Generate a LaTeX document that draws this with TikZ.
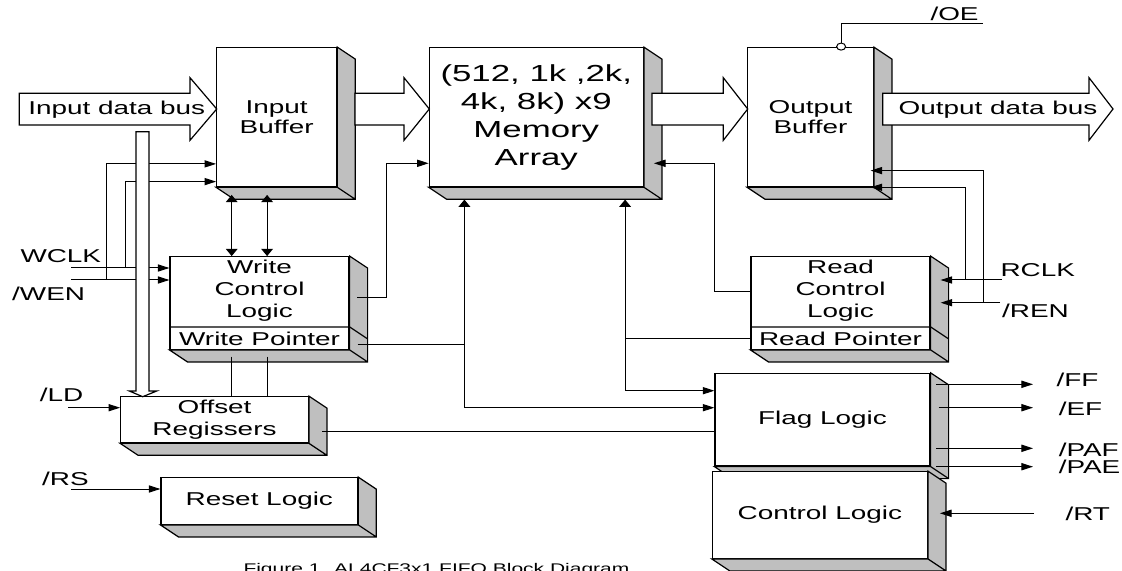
\documentclass[tikz,border=0pt]{standalone}
\usepackage{fontspec}
\newfontfamily\arialw[FakeStretch=1.5]{Liberation Sans}
\newcommand\lab{\arialw\fontsize{9.3pt}{11pt}\selectfont}
\newcommand\labten{\arialw\fontsize{9.3pt}{10pt}\selectfont}
\newcommand\memlab{\arialw\fontsize{11.6pt}{14pt}\selectfont}
\newcommand\caplab{\arialw\fontsize{7pt}{8pt}\selectfont}
\usetikzlibrary{arrows.meta, calc, shapes.geometric}

\tikzset{
  ht/.tip={Triangle[length=5.8pt,width=3.6pt]},
  vt/.tip={Triangle[length=3.6pt,width=5.8pt]},
}

% grey side and bottom of a block
\newcommand\blkside[1]{%
  \path[sideface] (#1.north east) -- ++(18,12) -- ($(#1.south east)+(18,12)$)
    -- ($(#1.south west)+(18,12)$) -- (#1.south west) -- (#1.south east) -- cycle
    (#1.south east) -- ++(18,12);}
% wide data bus arrow
\newcommand\busarrow[3]{%
  \path[busline] (#1,93.3) -- (#2,93.3) -- (#2,77.7) -- (#3,109) -- (#2,140.3)
    -- (#2,125) -- (#1,125) -- cycle;}

\begin{document}
\begin{tikzpicture}[x=0.5pt, y=-0.5pt, line width=0.5pt,
    blk/.style={draw, fill=white, line width=0.6pt, inner sep=0pt, align=center, font=\lab},
    sideface/.style={draw, fill=black!25, line width=0.6pt},
    busline/.style={draw, fill=white, line width=0.6pt},
    txt/.style={font=\lab, align=center, inner sep=0pt},
    sig/.style={font=\lab, inner sep=0pt, anchor=base west},
    hto/.style={-ht}, vboth/.style={vt-vt}, vh/.style={vt-ht}]
    \useasboundingbox (0,0) rectangle (1122,571);
    \clip (0,0) rectangle (1122,571);

    % blocks
    \node[blk, minimum width=60pt, minimum height=69.5pt, font=\labten] (inbuf) at (276.7,117.2) {Input\\Buffer};
    \blkside{inbuf}
    \node[blk, minimum width=107pt, minimum height=69.5pt, font=\memlab] (mem) at (536.3,117.2) {(512, 1k ,2k,\\4k, 8k) x9\\Memory\\Array};
    \blkside{mem}
    \node[blk, minimum width=62.8pt, minimum height=69.5pt, font=\labten] (outbuf) at (810.5,117.2) {Output\\Buffer};
    \blkside{outbuf}
    \node[blk, minimum width=89.5pt, minimum height=46.3pt] (wcl) at (259.5,303) {};
    \blkside{wcl}
    \draw[line width=0.6pt] ($(wcl.south west)+(0,-23)$) -- ($(wcl.south east)+(0,-23)$) -- ++(18,12);
    \node[txt] (wcltxt) at ($(wcl.north)+(0,34.5)$) {Write\\Control\\Logic};
    \node[txt] (wptr) at ($(wcl.south)+(0,-11.3)$) {Write Pointer};
    \node[blk, minimum width=89.5pt, minimum height=46.3pt] (rcl) at (840.5,303) {};
    \blkside{rcl}
    \draw[line width=0.6pt] ($(rcl.south west)+(0,-23)$) -- ($(rcl.south east)+(0,-23)$) -- ++(18,12);
    \node[txt] (rcltxt) at ($(rcl.north)+(0,34.5)$) {Read\\Control\\Logic};
    \node[txt] (rptr) at ($(rcl.south)+(0,-11.3)$) {Read Pointer};
    \node[blk, minimum width=93.8pt, minimum height=23pt] (offs) at (214.5,419.7) {Offset\\Regissers};
    \blkside{offs}
    \node[blk, minimum width=98.3pt, minimum height=23.3pt] (rst) at (259.3,501) {Reset Logic};
    \blkside{rst}
    \node[blk, minimum width=107.5pt, minimum height=46.3pt] (flag) at (822.5,419.7) {Flag Logic};
    \blkside{flag}
    \node[blk, minimum width=107.5pt, minimum height=43.3pt] (ctl) at (819.8,515) {Control Logic};
    \blkside{ctl}

    % data buses
    \busarrow{19.3}{190}{216.7}
    \node[font=\lab, inner sep=0pt, anchor=base] (inbus) at (116.7,115) {Input data bus};
    \busarrow{355}{404}{429.3}
    \busarrow{652}{723.3}{747.7}
    \busarrow{882.7}{1089}{1113}
    \node[font=\lab, inner sep=0pt, anchor=base] (outbus) at (998,115) {Output data bus};

    % pins
    \coordinate (wclk) at (71,268);
    \coordinate (wen) at (71,280);
    \coordinate (ld) at (68.3,407.7);
    \coordinate (rs) at (71,489);
    \coordinate (rclk) at (1001.7,280);
    \coordinate (ren) at (1000,302.7);
    \coordinate (rt) at (1034,513.3);
    \coordinate (ff) at (1033,384.3);
    \coordinate (ef) at (1033,407.7);
    \coordinate (paf) at (1033,448.3);
    \coordinate (pae) at (1033,466.7);
    \coordinate (oe) at (983.3,24);
    \node[sig] (lwclk) at (20,262.7) {WCLK};
    \node[sig] (lwen) at (11.7,300) {/WEN};
    \node[sig] (lld) at (39.3,401.7) {/LD};
    \node[sig] (lrs) at (41.7,485.7) {/RS};
    \node[sig] (lrclk) at (1000,276.7) {RCLK};
    \node[sig] (lren) at (1001.7,317.7) {/REN};
    \node[sig] (lff) at (1056,386.7) {/FF};
    \node[sig] (lef) at (1058.3,415.7) {/EF};
    \node[sig] (lpaf) at (1058.3,456.7) {/PAF};
    \node[sig] (lpae) at (1058.3,473.3) {/PAE};
    \node[sig] (lrt) at (1065,520) {/RT};
    \node[sig] (loe) at (930,20.7) {/OE};

    % write side
    \draw[hto] (wclk) -- (wclk -| wcl.west);
    \draw[hto] (wen) -- (wen -| wcl.west);
    \draw[hto] ($(wclk)+(54,0)$) |- ($(inbuf.south west)+(0,-5.7)$);
    \draw[hto] ($(wen)+(35.7,0)$) |- ($(inbuf.south west)+(0,-23.4)$);
    \coordinate (b1) at ($(inbuf.south west)+(15.6,7.6)$);
    \coordinate (b2) at ($(inbuf.south west)+(51,7.6)$);
    \foreach \b in {b1,b2} {
        \draw[vboth] (\b) -- (\b |- wcl.north);
        \draw ($(\b |- wcl.south)+(0,6.7)$) -- (\b |- offs.north);
    }
    \draw[hto] ($(wcl.east)+(7.7,-5.3)$) -- ++(29.3,0) |- ($(mem.west)+(0,46.1)$);
    \draw[hto] (ld) -- (ld -| offs.west);
    \draw[hto] (rs) -- (rs -| rst.west);

    % pointers and flags
    \coordinate (mw) at ($(mem.south west)+(35.7,12.3)$);
    \coordinate (mr) at ($(mem.south west)+(196.4,12.3)$);
    \coordinate (wp) at ($(wcl.south east)+(8,-5)$);
    \coordinate (rp) at ($(rcl.south west)+(0,-11)$);
    \coordinate (oo) at ($(offs.east)+(13.4,12)$);
    \draw[vh] (mw) |- ($(flag.west)+(0,-12)$);
    \draw[vh] (mr) |- ($(flag.west)+(0,-29)$);
    \draw (wp) -- (wp -| mw);
    \draw (rp) -- (rp -| mr);
    \draw (oo) -- (oo -| flag.west);
    \draw[hto] ($(rcl.west)+(0,-11.3)$) -- ++(-36,0) |- ($(mem.east)+(10,46.1)$);

    % read side
    \draw[hto] (rclk) -- ($(rclk -| rcl.east)+(10,0)$);
    \draw[hto] (ren) -- ($(ren -| rcl.east)+(10,0)$);
    \draw[hto] ($(rclk)+(-36.7,0)$) |- ($(outbuf.south east)+(-3.3,0)$);
    \draw[hto] ($(ren)+(-16.7,0)$) |- ($(outbuf.south east)+(-3.3,-16.7)$);
    \foreach \s/\d in {ff/5.7, ef/8, paf/5.7, pae/5.7}
        \draw[hto] ($(\s -| flag.east)+(\d,0)$) -- (\s);
    \draw[hto] (rt) -- ($(rt -| ctl.east)+(12,0)$);
    \node[draw, fill=white, ellipse, inner sep=0pt, minimum width=4.5pt, minimum height=3.5pt] (oebub) at ($(outbuf.north west)+(94,-0.5)$) {};
    \draw (oebub.north) |- (oe);

    % load bus into offset registers
    \path[busline] (136,131.7) -- (149,131.7) -- (149,391) -- (156.7,391) -- (142.7,396.7)
        -- (129.3,391) -- (136,391) -- cycle;

    \node[font=\caplab, inner sep=0pt, anchor=base west] (cap) at (243,573) {Figure 1. AL4CF3x1 FIFO Block Diagram};
\end{tikzpicture}
\end{document}
